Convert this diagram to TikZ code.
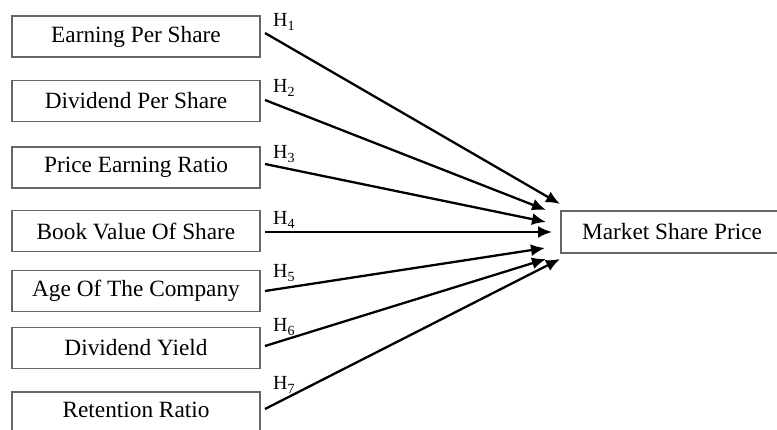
\documentclass[tikz,border=0pt]{standalone}
\usepackage{fontspec}
\setmainfont{Liberation Serif}
\usetikzlibrary{arrows.meta}
\begin{document}
\begin{tikzpicture}[x=1pt,y=-1pt,
  varbox/.style={draw=black!60,line width=1.2pt,minimum width=248pt,minimum height=41pt,inner sep=0pt,font=\fontsize{23.3}{28}\selectfont},
  hlab/.style={anchor=base west,inner sep=0pt,font=\fontsize{20}{22}\selectfont},
  link/.style={line width=2.3pt,-{Latex[length=14pt,width=12pt]}}]
\clip (0,0) rectangle (777,430);
\fill[white] (0,0) rectangle (777,430);
\node[varbox] (b1) at (136,36.5) {Earning Per Share};
\node[varbox] (b2) at (136,101) {Dividend Per Share};
\node[varbox] (b3) at (136,167.5) {Price Earning Ratio};
\node[varbox] (b4) at (136,231) {Book Value Of Share};
\node[varbox] (b5) at (136,291) {Age Of The Company};
\node[varbox] (b6) at (136,348) {Dividend Yield};
\node[varbox,minimum height=42pt] (b7) at (136,413) {};
\node[font=\fontsize{23.3}{28}\selectfont] (t7) at (136,410) {Retention Ratio};
\node[varbox,minimum width=222pt,minimum height=42pt] (m) at (672,232) {Market Share Price};
\node[hlab] (h1) at (273,27) {H\textsubscript{1}};
\node[hlab] (h2) at (273,93) {H\textsubscript{2}};
\node[hlab] (h3) at (273,159) {H\textsubscript{3}};
\node[hlab] (h4) at (273,225) {H\textsubscript{4}};
\node[hlab] (h5) at (273,278) {H\textsubscript{5}};
\node[hlab] (h6) at (273,332) {H\textsubscript{6}};
\node[hlab] (h7) at (273,390) {H\textsubscript{7}};
\coordinate (s1) at (265,33);
\coordinate (s2) at (265,100);
\coordinate (s3) at (265,164);
\coordinate (s4) at (265,232);
\coordinate (s5) at (265,291);
\coordinate (s6) at (265,346);
\coordinate (s7) at (265,409);
\coordinate (e1) at (560,204);
\coordinate (e2) at (546,210);
\coordinate (e3) at (546,222);
\coordinate (e4) at (552,232);
\coordinate (e5) at (545,248);
\coordinate (e6) at (546,259);
\coordinate (e7) at (560,259);
\foreach \i in {1,...,7} \draw[link] (s\i) -- (e\i);
\end{tikzpicture}
\end{document}
